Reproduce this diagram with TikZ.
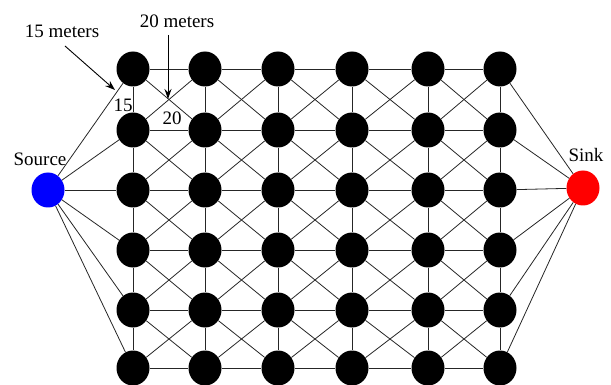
\documentclass[tikz,border=0pt]{standalone}
\usepackage{fontspec}
\setmainfont{Liberation Serif}
\usetikzlibrary{shapes.geometric,arrows.meta}
\begin{document}
\begin{tikzpicture}[x=1pt,y=-1pt,
 gn/.style={ellipse,fill=black,draw=none,inner sep=0,minimum width=33pt,minimum height=35pt},
 srcnode/.style={gn,fill=blue},
 snknode/.style={gn,fill=red},
 ln/.style={line width=0.8pt,draw=black!85},
 lbl/.style={font=\fontsize{19}{22}\selectfont,inner sep=0},
 arr/.style={line width=0.9pt,-{Stealth[length=10pt,width=7pt]}}]
\useasboundingbox (0,0) rectangle (611,385);
\foreach \c/\x in {1/133,2/205,3/278,4/352,5/428,6/500}
 \foreach \r/\y in {1/69,2/130,3/190,4/250,5/310,6/368}
 \node[gn] (n\c\r) at (\x,\y) {};
\node[srcnode] (src) at (48,190) {};
\node[snknode] (snk) at (583,188) {};
\foreach \c in {1,...,6}
 \foreach \r in {1,...,6} {
  \pgfmathtruncatemacro{\cn}{\c+1}
  \pgfmathtruncatemacro{\rn}{\r+1}
  \ifnum\c<6 \draw[ln] (n\c\r) -- (n\cn\r); \fi
  \ifnum\r<6 \draw[ln] (n\c\r) -- (n\c\rn); \fi
  \ifnum\c<6 \ifnum\r<6
    \draw[ln] (n\c\r) -- (n\cn\rn);
    \draw[ln] (n\cn\r) -- (n\c\rn);
  \fi\fi
 }
\foreach \r in {1,...,6} {
  \draw[ln] (src) -- (n1\r);
  \draw[ln] (n6\r) -- (snk);
}
\node[lbl] (l15m) at (62,31) {15 meters};
\node[lbl] (l20m) at (177,21) {20 meters};
\coordinate (a1s) at (65,46);
\coordinate (a1e) at (115,90);
\coordinate (a2s) at (168,35);
\coordinate (a2e) at (168,99);
\draw[arr] (a1s) -- (a1e);
\draw[arr] (a2s) -- (a2e);
\node[lbl] (l15) at (123,105) {15};
\node[lbl] (l20) at (172,118) {20};
\node[lbl] (lsrc) at (40,159) {Source};
\node[lbl] (lsnk) at (586,155) {Sink};
\end{tikzpicture}
\end{document}
